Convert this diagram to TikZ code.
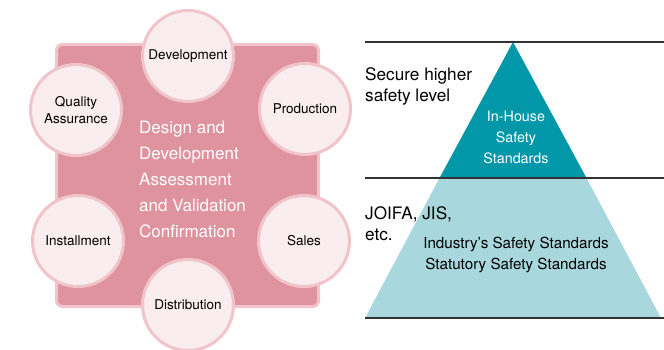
\documentclass[tikz,border=0pt]{standalone}
\usepackage{fontspec}
\setmainfont{TeX Gyre Heros}
\usepackage{tikz}
\usetikzlibrary{backgrounds,calc}
\definecolor{rosefill}{HTML}{DE939E}
\definecolor{roseedge}{HTML}{F0C4CA}
\definecolor{blushfill}{HTML}{FAEDEF}
\definecolor{tealdark}{HTML}{0098A8}
\definecolor{teallight}{HTML}{A8D7DD}
\definecolor{rulegray}{HTML}{333333}

\begin{document}
\begin{tikzpicture}[x=1pt,y=-1pt,
  stage/.style={circle,draw=roseedge,line width=3pt,fill=blushfill,minimum size=91pt,
    inner sep=0pt,align=center,text=black,font=\fontsize{13.5}{17}\selectfont},
  rule/.style={draw=rulegray,line width=1.3pt},
  label/.style={inner sep=0pt,align=left,anchor=west,font=\fontsize{17.2}{21}\selectfont}]
\useasboundingbox (0,0) rectangle (664,350);
% left: process around the assessment
\draw[draw=roseedge,fill=rosefill,line width=3pt,rounded corners=6pt] (56.5,44.5) rectangle (318.5,306.5);
\node[stage] (dev) at (188,56) {Development};
\node[stage] (qa) at (76,110) {Quality\\Assurance};
\node[stage] (prod) at (305,109) {Production};
\node[stage] (inst) at (78,241) {Installment};
\node[stage] (sales) at (304,241) {Sales};
\node[stage] (dist) at (188,305) {Distribution};
\node[inner sep=0pt,anchor=west,align=left,text=white,font=\fontsize{17}{26}\selectfont] (core) at (139,179)
  {Design and\\Development\\Assessment\\and Validation\\Confirmation};
% right: safety standards pyramid
\coordinate (apex) at (513,42);
\coordinate (midL) at (439.5,178);
\coordinate (midR) at (586.5,178);
\coordinate (baseL) at (365,318);
\coordinate (baseR) at (661,318);
\fill[teallight] (midL) -- (midR) -- (baseR) -- (baseL) -- cycle;
\fill[tealdark] (apex) -- (midR) -- (midL) -- cycle;
\draw[rule] (365,42) -- (664,42);
\draw[rule] (365,178) -- (664,178);
\draw[rule] (365,318) -- (664,318);
\node[label] (secure) at (365,86.5) {Secure higher\\safety level};
\node[label] (joifa) at (365,224) {JOIFA, JIS,\\etc.};
\node[inner sep=0pt,align=center,text=white,font=\fontsize{14.3}{21}\selectfont] (inhouse) at (516,137)
  {In-House\\Safety\\Standards};
\node[inner sep=0pt,align=center,text=black,font=\fontsize{15.2}{21}\selectfont] (industry) at (516,254.5)
  {Industry’s Safety Standards\\Statutory Safety Standards};
\end{tikzpicture}
\end{document}
